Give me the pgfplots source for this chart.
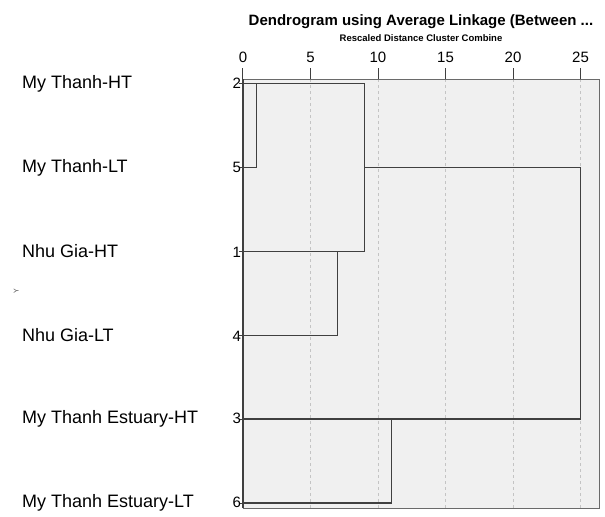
\documentclass[border=0pt]{standalone}
\usepackage{fontspec}
\setmainfont{Liberation Sans}
\usepackage{pgfplots}
\pgfplotsset{compat=1.18}
\definecolor{bgc}{HTML}{F0F0F0}
\definecolor{lnc}{HTML}{404040}
\definecolor{grd}{HTML}{C4C4C4}
\definecolor{frm}{HTML}{6A6A6A}
\newcommand\lab[2]{\hbox to 219bp{\fontsize{18bp}{20bp}\selectfont #1\hfil\fontsize{15bp}{17bp}\selectfont #2}}
\begin{document}
\begin{tikzpicture}
\begin{axis}[
  scale only axis, width=356bp, height=429bp,
  xmin=0, xmax=26.37, ymin=-0.055, ymax=5.06, y dir=reverse,
  axis background/.style={fill=bgc},
  axis line style={frm, line width=0.8bp},
  tick align=outside,
  xtick={0,5,10,15,20,25},
  xtick pos=upper, xticklabel pos=upper,
  xtick style={lnc, line width=1bp, /pgfplots/major tick length=11bp},
  ytick={0,1,2,3,4,5},
  ytick pos=left, yticklabel pos=left,
  ytick style={lnc, line width=0.8bp, /pgfplots/major tick length=4bp},
  yticklabels={\lab{My Thanh-HT}{2},\lab{My Thanh-LT}{5},\lab{Nhu Gia-HT}{1},\lab{Nhu Gia-LT}{4},\lab{My Thanh Estuary-HT}{3},\lab{My Thanh Estuary-LT}{6}},
  yticklabel style={inner sep=0bp, xshift=2.5bp},
  xticklabel style={font=\fontsize{15bp}{17bp}\selectfont, /pgf/number format/assume math mode=true, yshift=9bp},
  xmajorgrids, major grid style={grd, dash pattern=on 3bp off 3bp, line width=0.8bp},
  ylabel={Y}, ylabel style={font=\fontsize{7bp}{8bp}\selectfont, text=black!70, xshift=2bp},
  clip=false,
]
\addplot[lnc, line width=1.4bp] coordinates {(0,0) (9,0) (9,2) (0,2)};
\addplot[lnc, line width=1.4bp] coordinates {(0,1) (1,1) (1,0)};
\addplot[lnc, line width=1.4bp] coordinates {(9,1) (25,1) (25,4) (0,4)};
\addplot[lnc, line width=1.4bp] coordinates {(7,2) (7,3) (0,3)};
\addplot[lnc, line width=1.4bp] coordinates {(11,4) (11,5) (0,5)};
\draw[lnc, line width=1.8bp] (axis description cs:0,0) -- (axis description cs:0,1);
\coordinate (TL) at (axis description cs:0,1);
\end{axis}
\node[font=\bfseries\fontsize{15bp}{17bp}\selectfont] at ([shift={(178bp,57bp)}]TL) {Dendrogram using Average Linkage (Between ...};
\node[font=\bfseries\fontsize{9.5bp}{11bp}\selectfont] at ([shift={(178bp,41bp)}]TL) {Rescaled Distance Cluster Combine};
\pgfresetboundingbox
\path[use as bounding box] ([shift={(-243bp,79bp)}]TL) rectangle ([shift={(362bp,-438bp)}]TL);
\end{tikzpicture}
\end{document}
